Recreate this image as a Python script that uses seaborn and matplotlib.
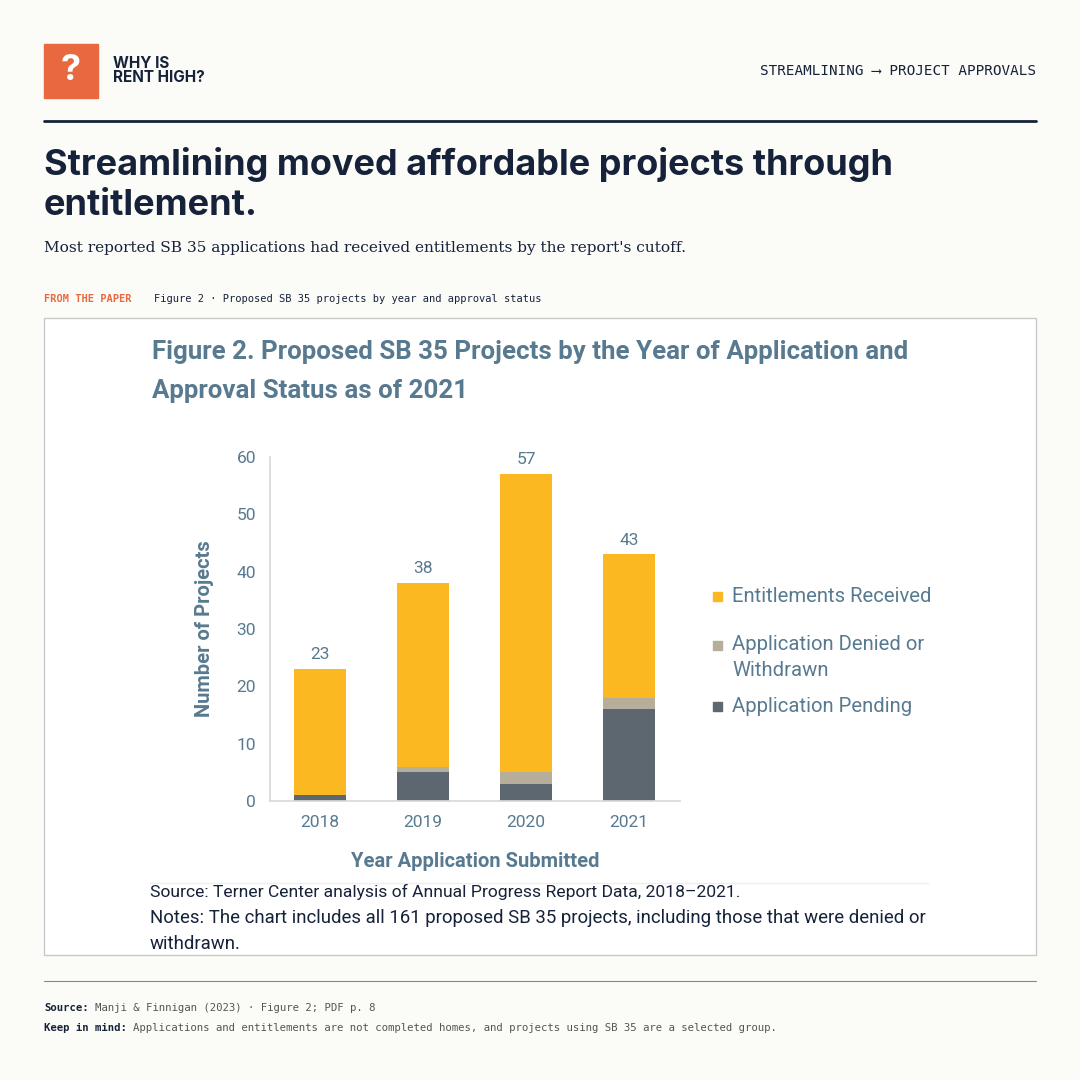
import matplotlib
matplotlib.use("Agg")
import matplotlib.pyplot as plt
from matplotlib.patches import Rectangle
import seaborn as sns
import numpy as np

years = ["2018", "2019", "2020", "2021"]
pending = [1, 5, 3, 16]
denied = [0, 1, 2, 2]
entitled = [22, 32, 52, 25]
totals = [a + b + c for a, b, c in zip(pending, denied, entitled)]

BG = "#fbfbf7"
NAVY = "#16223a"
ORANGE = "#e8693f"
SLATE = "#587a90"
C_ENT = "#fbb820"
C_DEN = "#b6ae9a"
C_PEN = "#5c6770"
CHART_FONT = ["Roboto", "DejaVu Sans"]
MONO = ["DejaVu Sans Mono"]

sns.set_theme(style="white")
plt.rcParams["font.family"] = ["Inter", "DejaVu Sans"]

fig = plt.figure(figsize=(10.8, 10.8), dpi=100, facecolor=BG)

def px(x, y):
    return x / 1080, 1 - y / 1080

# header
fig.patches.append(Rectangle(px(44, 98), 54 / 1080, 54 / 1080, transform=fig.transFigure, color=ORANGE))
fig.text(*px(71, 71), "?", color="white", fontsize=26, fontweight="bold", ha="center", va="center")
fig.text(*px(113, 63), "WHY IS", color=NAVY, fontsize=11, fontweight="bold", va="center")
fig.text(*px(113, 78), "RENT HIGH?", color=NAVY, fontsize=11, fontweight="bold", va="center")
fig.text(*px(1036, 71), "STREAMLINING \u27f6 PROJECT APPROVALS", color=NAVY, fontsize=10.3,
         family=MONO, ha="right", va="center")
fig.add_artist(plt.Line2D([44 / 1080, 1036 / 1080], [1 - 121 / 1080] * 2, color=NAVY, lw=2))

fig.text(*px(44, 165), "Streamlining moved affordable projects through", color=NAVY, fontsize=26,
         fontweight="bold", va="center")
fig.text(*px(44, 205), "entitlement.", color=NAVY, fontsize=26, fontweight="bold", va="center")
fig.text(*px(44, 248), "Most reported SB 35 applications had received entitlements by the report's cutoff.",
         color=NAVY, fontsize=11.1, family=["DejaVu Serif"], va="center")
fig.text(*px(44, 299), "FROM THE PAPER", color=ORANGE, fontsize=7.5, family=MONO,
         fontweight="bold", va="center")
fig.text(*px(154, 299), "Figure 2 \u00b7 Proposed SB 35 projects by year and approval status", color=NAVY,
         fontsize=7.5, family=MONO, va="center")

# chart frame
fig.patches.append(Rectangle(px(44, 955), 992 / 1080, 637 / 1080, transform=fig.transFigure,
                             facecolor="white", edgecolor="#c8c8c8", lw=1, zorder=-1))

fig.text(*px(152, 352), "Figure 2. Proposed SB 35 Projects by the Year of Application and", color=SLATE,
         fontsize=18.6, fontweight="bold", family=CHART_FONT, va="center")
fig.text(*px(152, 391), "Approval Status as of 2021", color=SLATE,
         fontsize=18.6, fontweight="bold", family=CHART_FONT, va="center")

ax = fig.add_axes([270 / 1080, 1 - 801 / 1080, 410 / 1080, 344 / 1080])
ax.set_facecolor("white")
bot2 = np.array(pending)
bot3 = bot2 + np.array(denied)
sns.barplot(x=years, y=pending, color=C_PEN, width=0.5, ax=ax, saturation=1, linewidth=0)
sns.barplot(x=years, y=denied, bottom=bot2, color=C_DEN, width=0.5, ax=ax, saturation=1, linewidth=0)
sns.barplot(x=years, y=entitled, bottom=bot3, color=C_ENT, width=0.5, ax=ax, saturation=1, linewidth=0)
for i, t in enumerate(totals):
    ax.text(i, t + 1.2, str(t), ha="center", va="bottom", color=SLATE, fontsize=12.5, family=CHART_FONT)
ax.set_xlim(-0.485, 3.495)
ax.set_ylim(0, 60)
ax.set_yticks(range(0, 61, 10))
for s in ["top", "right"]:
    ax.spines[s].set_visible(False)
for s in ["left", "bottom"]:
    ax.spines[s].set_color("#d9d9d9")
ax.tick_params(colors=SLATE, labelsize=12.5, length=0, pad=10)
for lab in ax.get_xticklabels() + ax.get_yticklabels():
    lab.set_family(CHART_FONT)
ax.set_xlabel("Year Application Submitted", color=SLATE, fontsize=14.5, fontweight="bold",
              family=CHART_FONT, labelpad=16)
ax.set_ylabel("Number of Projects", color=SLATE, fontsize=14.5, fontweight="bold",
              family=CHART_FONT, labelpad=16)

# legend
for y, c, lines in [(596, C_ENT, ["Entitlements Received"]),
                    (645, C_DEN, ["Application Denied or", "Withdrawn"]),
                    (706, C_PEN, ["Application Pending"])]:
    fig.patches.append(Rectangle(px(713, y + 5), 9 / 1080, 9 / 1080, transform=fig.transFigure, color=c))
    for k, l in enumerate(lines):
        fig.text(*px(732, y + 25 * k), l, color=SLATE, fontsize=14.6, family=CHART_FONT, va="center")

fig.add_artist(plt.Line2D([150 / 1080, 928 / 1080], [1 - 883 / 1080] * 2, color="#eeeeee", lw=1))
fig.text(*px(150, 892), "Source: Terner Center analysis of Annual Progress Report Data, 2018\u20132021.",
         color=NAVY, fontsize=12.6, family=CHART_FONT, va="center")
fig.text(*px(150, 918), "Notes: The chart includes all 161 proposed SB 35 projects, including those that were denied or",
         color=NAVY, fontsize=13.4, family=CHART_FONT, va="center")
fig.text(*px(150, 944), "withdrawn.", color=NAVY, fontsize=13.4, family=CHART_FONT, va="center")
# white mask clipping the embedded figure's right edge, as in the reference
mask = Rectangle(px(932, 954), 103 / 1080, 500 / 1080, transform=fig.transFigure,
                 facecolor="white", edgecolor="none")
mask.set_zorder(10)
fig.add_artist(mask)

# footer
fig.add_artist(plt.Line2D([44 / 1080, 1036 / 1080], [1 - 981 / 1080] * 2, color="#888888", lw=0.8))
fig.text(*px(44, 1008), "Source:", color=NAVY, fontsize=7.7, fontweight="bold", family=MONO, va="center")
fig.text(*px(95, 1008), "Manji & Finnigan (2023) \u00b7 Figure 2; PDF p. 8", color="#555555", fontsize=7.7,
         family=MONO, va="center")
fig.text(*px(44, 1028), "Keep in mind:", color=NAVY, fontsize=7.7, fontweight="bold", family=MONO, va="center")
fig.text(*px(133, 1028), "Applications and entitlements are not completed homes, and projects using SB 35 are a selected group.",
         color="#555555", fontsize=7.7, family=MONO, va="center")

fig.savefig("out.png", dpi=100, facecolor=BG)
